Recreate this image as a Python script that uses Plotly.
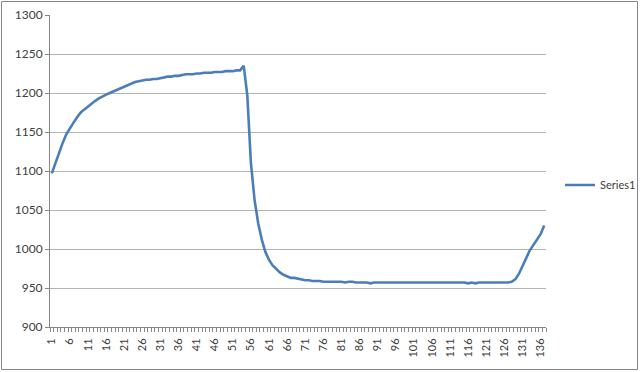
import plotly.graph_objects as go

categories = list(range(1, 138))
series1 = [
    1097, 1110, 1125, 1136, 1147, 1155, 1162, 1169, 1175, 1179,
    1183, 1187, 1190, 1193, 1196, 1198, 1200, 1202, 1205, 1207,
    1209, 1211, 1212, 1214, 1215, 1216, 1217, 1217, 1218, 1218,
    1219, 1220, 1221, 1221, 1222, 1222, 1223, 1224, 1224, 1224,
    1225, 1225, 1226, 1226, 1226, 1227, 1227, 1227, 1228, 1228,
    1228, 1229, 1229, 1235, 1197, 1110, 1063, 1033, 1012, 996,
    986, 979, 974, 970, 967, 965, 963, 963, 962, 961,
    960, 960, 959, 959, 959, 958, 958, 958, 958, 958,
    958, 957, 958, 958, 957, 957, 957, 957, 956, 957,
    957, 957, 957, 957, 957, 957, 957, 957, 957, 957,
    957, 957, 957, 957, 957, 957, 957, 957, 957, 957,
    957, 957, 957, 957, 957, 956, 957, 956, 957, 957,
    957, 957, 957, 957, 957, 957, 957, 958, 961, 968,
    978, 989, 998, 1005, 1012, 1019, 1030,
]
tick_labels = list(range(1, 138, 5))
y_ticks = list(range(900, 1301, 50))

FONT = "Lato, 'Liberation Sans', sans-serif"
GRID = "#b3b3b3"

fig = go.Figure()
fig.add_trace(go.Scatter(
    x=categories, y=series1, mode="lines", name="Series1",
    line=dict(color="#4a7ebb", width=2.6),
))

W, H = 640, 372
L, R, T, B = 50, 94, 15, 45
pw, ph = W - L - R, H - T - B

def px_x(px):
    return (px - L) / pw

def px_y(py):
    return (H - B - py) / ph

fig.update_layout(
    width=W, height=H,
    margin=dict(l=L, r=R, t=T, b=B, autoexpand=False),
    paper_bgcolor="white", plot_bgcolor="white",
    font=dict(family=FONT, size=11, color="#404040"),
    showlegend=True,
    legend=dict(x=px_x(560), y=px_y(185), xanchor="left", yanchor="middle",
                font=dict(family=FONT, size=11, color="#404040"),
                bgcolor="rgba(0,0,0,0)", itemwidth=30),
    xaxis=dict(
        range=[0.5, 137.5], tickmode="array", tickvals=tick_labels,
        ticktext=[str(v) for v in tick_labels], tickangle=-90,
        ticks="", showgrid=False, zeroline=False,
        showline=True, linecolor="#868686", linewidth=1,
        ticklabelstandoff=6,
        minor=dict(tickmode="linear", tick0=0.5, dtick=1, ticks="outside",
                   ticklen=4, tickcolor="#868686", showgrid=False),
        tickfont=dict(family=FONT, size=11, color="#404040"),
        fixedrange=True,
    ),
    yaxis=dict(
        range=[900, 1300], tickmode="array", tickvals=y_ticks,
        ticks="outside", ticklen=4, tickcolor="#868686",
        showgrid=True, gridcolor=GRID, gridwidth=1, zeroline=False,
        showline=True, linecolor="#868686", linewidth=1,
        tickfont=dict(family=FONT, size=12, color="#404040"),
        fixedrange=True,
    ),
    shapes=[dict(type="rect", xref="paper", yref="paper",
                 x0=px_x(1.5), x1=px_x(637.5), y0=px_y(369.5), y1=px_y(1.5),
                 line=dict(color="#868686", width=1), layer="below")],
)

fig.write_html("out.html")
